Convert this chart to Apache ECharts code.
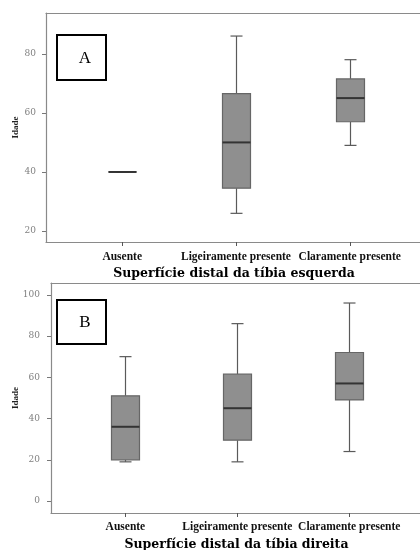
<!DOCTYPE html>
<html>
<head>
<meta charset="utf-8">
<script src="https://cdn.jsdelivr.net/npm/echarts@6/dist/echarts.min.js"></script>
<style>
  html, body { margin: 0; padding: 0; background: #fff; }
  #chart { width: 420px; height: 550px; }
</style>
</head>
<body>
<div id="chart"></div>
<script>
// Age distribution (Idade) by appearance of the distal tibial surface
const categories = ['Ausente', 'Ligeiramente presente', 'Claramente presente'];
const categoryPos = [1, 2, 3];
// five-number summaries per category: [min, Q1, median, Q3, max]
const esquerdaStats = [
  [40, 40, 40, 40, 40],
  [26, 34.5, 50, 66.5, 86],
  [49, 57, 65, 71.5, 78]
];
const direitaStats = [
  [19, 20, 36, 51, 70],
  [19, 29.5, 45, 61.5, 86],
  [24, 49, 57, 72, 96]
];
const esquerdaTicks = [20, 40, 60, 80];
const direitaTicks = [0, 20, 40, 60, 80, 100];

const SERIF = '"Liberation Serif", "DejaVu Serif", serif';
const WIDE_SERIF = '"DejaVu Serif", "Liberation Serif", serif';
const FRAME = '#8a8a8a';
const BOX_W = 28;
const CAP_W = 12;

function rows(stats) {
  return stats.map((s, i) => [categoryPos[i]].concat(s));
}

function renderBox(params, api) {
  const x = api.value(0);
  const lo = api.coord([x, api.value(1)]);
  const q1 = api.coord([x, api.value(2)]);
  const md = api.coord([x, api.value(3)]);
  const q3 = api.coord([x, api.value(4)]);
  const hi = api.coord([x, api.value(5)]);
  const cx = Math.round(lo[0]) + 0.5;
  const hw = BOX_W / 2, cw = CAP_W / 2;
  const whisker = { stroke: '#5a5a5a', lineWidth: 1.2 };
  return {
    type: 'group',
    children: [
      { type: 'line', shape: { x1: cx, y1: hi[1], x2: cx, y2: q3[1] }, style: whisker },
      { type: 'line', shape: { x1: cx, y1: q1[1], x2: cx, y2: lo[1] }, style: whisker },
      { type: 'line', shape: { x1: cx - cw, y1: hi[1], x2: cx + cw, y2: hi[1] }, style: whisker },
      { type: 'line', shape: { x1: cx - cw, y1: lo[1], x2: cx + cw, y2: lo[1] }, style: whisker },
      { type: 'rect', shape: { x: cx - hw, y: q3[1], width: BOX_W, height: q1[1] - q3[1] },
        style: { fill: '#8f8f8f', stroke: '#666', lineWidth: 1.2 } },
      { type: 'line', shape: { x1: cx - hw, y1: md[1], x2: cx + hw, y2: md[1] },
        style: { stroke: '#333', lineWidth: 2 } }
    ]
  };
}

function panelAxes(ticks, yMin, yMax, xMin, xMax, yNameGap, yLabelMargin, xLabelMargin, title, idx) {
  const frameLine = { show: true, onZero: false, lineStyle: { color: FRAME, width: 1.2 } };
  return {
    x: {
      type: 'value', gridIndex: idx, min: xMin, max: xMax, position: 'bottom',
      name: title, nameLocation: 'middle', nameGap: 25, nameMoveOverlap: false,
      nameTextStyle: { fontFamily: WIDE_SERIF, fontSize: 12.5, fontWeight: 'bold', color: '#000' },
      axisLine: frameLine,
      axisTick: { show: true, length: 4, customValues: categoryPos, lineStyle: { color: '#555' } },
      axisLabel: {
        customValues: categoryPos, margin: xLabelMargin,
        formatter: v => categories[Math.round(v) - 1],
        fontFamily: SERIF, fontSize: 11.5, fontWeight: 'bold', color: '#111'
      },
      splitLine: { show: false }
    },
    // top edge of the plot frame
    top: {
      type: 'value', gridIndex: idx, min: xMin, max: xMax, position: 'top',
      axisLine: frameLine, axisTick: { show: false }, axisLabel: { show: false },
      splitLine: { show: false }
    },
    y: {
      type: 'value', gridIndex: idx, min: yMin, max: yMax,
      name: 'Idade', nameLocation: 'middle', nameRotate: 90, nameGap: yNameGap,
      nameMoveOverlap: false,
      nameTextStyle: { fontFamily: SERIF, fontSize: 9, fontWeight: 'bold', color: '#222' },
      axisLine: frameLine,
      axisTick: { show: true, length: 4, customValues: ticks, lineStyle: { color: '#777' } },
      axisLabel: {
        customValues: ticks, margin: yLabelMargin,
        fontFamily: WIDE_SERIF, fontSize: 9, color: '#808080'
      },
      splitLine: { show: false }
    }
  };
}

const a = panelAxes(esquerdaTicks, 16.3, 93.8, 0.33, 3.635, 26, 10, 9,
  'Superfície distal da tíbia esquerda', 0);
const b = panelAxes(direitaTicks, -5.8, 105.7, 0.335, 3.65, 31, 11, 8.5,
  'Superfície distal da tíbia direita', 1);

function panelTag(letter, top, h) {
  return {
    type: 'group', left: 56, top: top,
    children: [
      { type: 'rect', shape: { x: 0, y: 0, width: 49, height: h },
        style: { fill: '#fff', stroke: '#000', lineWidth: 2 } },
      { type: 'text', x: 28, y: h / 2 + 1,
        style: { text: letter, fontFamily: SERIF, fontSize: 17, fill: '#000',
                 align: 'center', verticalAlign: 'middle' } }
    ]
  };
}

const chart = echarts.init(document.getElementById('chart'), null, { renderer: 'canvas' });
chart.setOption({
  backgroundColor: '#fff',
  animation: false,
  grid: [
    { left: 46, top: 13, width: 376, height: 229, outerBoundsMode: 'none', containLabel: false },
    { left: 51, top: 283, width: 371, height: 230, outerBoundsMode: 'none', containLabel: false }
  ],
  xAxis: [a.x, b.x, a.top, b.top],
  yAxis: [a.y, b.y],
  series: [
    { type: 'custom', xAxisIndex: 0, yAxisIndex: 0, renderItem: renderBox,
      encode: { x: 0, y: [1, 2, 3, 4, 5] }, data: rows(esquerdaStats) },
    { type: 'custom', xAxisIndex: 1, yAxisIndex: 1, renderItem: renderBox,
      encode: { x: 0, y: [1, 2, 3, 4, 5] }, data: rows(direitaStats) }
  ],
  graphic: [panelTag('A', 34, 45), panelTag('B', 299, 44)]
});
</script>
</body>
</html>
